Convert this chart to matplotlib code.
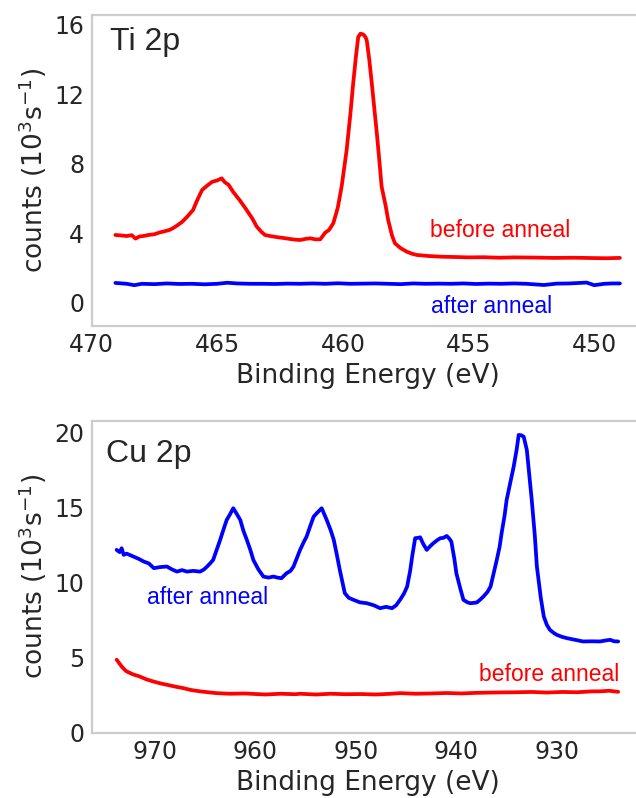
import matplotlib
matplotlib.use("Agg")
import matplotlib.pyplot as plt
import seaborn as sns

sns.set_theme(style="whitegrid", context="talk")
plt.rcParams["font.family"] = ["DejaVu Sans"]
plt.rcParams["mathtext.default"] = "regular"
plt.rcParams["axes.grid"] = False

ANNOT_FONT = ["Liberation Sans", "DejaVu Sans"]

# ---- Ti 2p region ----
ti_before_x = [469.05, 468.8, 468.6, 468.4, 468.25, 468.1, 467.9, 467.7, 467.5, 467.3,
               467.1, 466.9, 466.76, 466.6, 466.4, 466.2, 465.96, 465.8, 465.6, 465.4,
               465.2, 465.0, 464.82, 464.7, 464.55, 464.37, 464.1, 463.83, 463.6, 463.43,
               463.25, 463.1, 462.9, 462.6, 462.38, 462.1, 461.9, 461.7, 461.5, 461.3,
               461.1, 460.9, 460.7, 460.55, 460.38, 460.2, 460.05, 459.85, 459.7, 459.59,
               459.48, 459.39, 459.3, 459.19, 459.1, 459.05, 458.95, 458.85, 458.75, 458.65,
               458.55, 458.46, 458.3, 458.2, 458.05, 457.93, 457.7, 457.46, 457.25, 457.06,
               456.6, 456.1, 455.5, 455.0, 454.4, 453.8, 453.2, 452.4, 451.6, 450.8,
               450.0, 449.5, 448.98]
ti_before_y = [3.91, 3.88, 3.85, 3.90, 3.70, 3.82, 3.86, 3.92, 3.95, 4.05,
               4.12, 4.20, 4.30, 4.45, 4.66, 4.95, 5.35, 5.90, 6.50, 6.75,
               6.97, 7.05, 7.17, 6.95, 6.80, 6.40, 5.90, 5.35, 4.85, 4.40,
               4.10, 3.91, 3.85, 3.78, 3.74, 3.68, 3.64, 3.62, 3.68, 3.72,
               3.66, 3.66, 4.05, 4.20, 4.59, 5.50, 6.70, 8.80, 10.90, 12.64,
               14.20, 15.30, 15.50, 15.45, 15.30, 15.10, 14.00, 12.64, 11.20, 9.77,
               8.20, 6.70, 5.60, 4.78, 3.90, 3.43, 3.15, 2.95, 2.83, 2.76,
               2.70, 2.66, 2.64, 2.62, 2.63, 2.60, 2.62, 2.61, 2.59, 2.60,
               2.58, 2.57, 2.59]

ti_after_x = [469.05, 468.6, 468.3, 468.0, 467.5, 467.0, 466.5, 466.0, 465.5, 465.0,
              464.6, 464.2, 463.7, 463.2, 462.7, 462.2, 461.7, 461.2, 460.7, 460.2,
              459.7, 459.2, 458.7, 458.2, 457.7, 457.2, 456.7, 456.2, 455.7, 455.2,
              454.7, 454.2, 453.7, 453.2, 452.7, 452.0, 451.5, 451.0, 450.3, 450.0,
              449.6, 449.3, 448.98]
ti_after_y = [1.15, 1.10, 1.02, 1.10, 1.08, 1.12, 1.09, 1.10, 1.07, 1.10,
              1.16, 1.12, 1.10, 1.10, 1.09, 1.11, 1.10, 1.12, 1.10, 1.13,
              1.10, 1.11, 1.12, 1.10, 1.08, 1.12, 1.10, 1.11, 1.10, 1.12,
              1.09, 1.11, 1.10, 1.12, 1.10, 1.03, 1.11, 1.12, 1.17, 1.02,
              1.10, 1.12, 1.12]

# ---- Cu 2p region ----
cu_after_x = [973.8, 973.5, 973.3, 973.1, 972.8, 972.1, 971.6, 971.1, 970.6, 970.1,
              969.5, 968.8, 968.3, 967.8, 967.3, 966.8, 966.2, 965.5, 965.1, 964.8,
              964.5, 964.2, 963.85, 963.5, 963.2, 962.85, 962.5, 962.2, 961.85, 961.5,
              961.2, 960.85, 960.5, 960.2, 959.7, 959.2, 958.7, 958.2, 957.8, 957.4,
              956.9, 956.5, 956.2, 955.9, 955.55, 955.2, 954.9, 954.56, 954.2, 953.9,
              953.4, 952.9, 952.5, 952.2, 951.9, 951.6, 951.1, 950.7, 950.25, 949.6,
              948.9, 948.2, 947.6, 947.0, 946.4, 946.0, 945.6, 945.2, 944.9, 944.6,
              944.4, 944.1, 943.85, 943.6, 943.3, 942.95, 942.6, 942.3, 941.9, 941.6,
              941.3, 940.96, 940.7, 940.5, 940.2, 940.0, 939.6, 939.3, 938.9, 938.6,
              937.97, 937.6, 937.3, 936.9, 936.6, 936.3, 935.98, 935.7, 935.5, 935.2,
              935.0, 934.6, 934.3, 934.0, 933.8, 933.55, 933.3, 932.99, 932.75, 932.5,
              932.2, 931.99, 931.6, 931.3, 931.0, 930.7, 930.3, 930.0, 929.5, 929.0,
              928.2, 927.4, 926.5, 925.7, 925.2, 924.7, 924.3, 923.9]
cu_after_y = [12.20, 12.05, 12.31, 11.87, 11.95, 11.75, 11.60, 11.42, 11.30, 10.98,
              11.05, 11.09, 10.90, 10.75, 10.85, 10.75, 10.80, 10.75, 10.90, 11.09,
              11.30, 11.53, 12.20, 12.87, 13.50, 14.20, 14.60, 14.98, 14.60, 14.20,
              13.50, 12.87, 12.20, 11.53, 10.90, 10.42, 10.35, 10.42, 10.35, 10.31,
              10.64, 10.80, 11.09, 11.60, 12.20, 12.70, 13.09, 13.75, 14.42, 14.64,
              14.98, 14.20, 13.50, 12.87, 11.90, 10.87, 9.31, 9.00, 8.87, 8.70,
              8.64, 8.50, 8.31, 8.40, 8.31, 8.50, 8.87, 9.30, 9.75, 10.80,
              11.75, 12.98, 13.00, 13.04, 12.60, 12.20, 12.45, 12.64, 12.85, 12.98,
              13.00, 13.13, 12.95, 12.75, 11.60, 10.64, 9.60, 8.87, 8.70, 8.64,
              8.69, 8.90, 9.09, 9.40, 9.75, 10.60, 11.53, 12.40, 13.31, 14.50,
              15.53, 16.80, 17.75, 18.90, 19.87, 19.85, 19.75, 18.87, 17.20, 15.53,
              13.20, 11.09, 9.00, 7.75, 7.20, 6.87, 6.65, 6.53, 6.40, 6.31,
              6.20, 6.09, 6.10, 6.09, 6.15, 6.20, 6.10, 6.09]

cu_before_x = [973.8, 973.5, 973.3, 973.0, 972.8, 972.2, 971.5, 970.8, 970.15, 969.5,
               968.8, 968.0, 967.2, 966.4, 965.5, 964.7, 963.85, 962.5, 961.0, 960.5,
               959.0, 957.5, 956.0, 955.55, 954.0, 952.5, 951.0, 949.5, 948.0, 946.5,
               945.6, 944.0, 942.5, 941.0, 939.5, 938.0, 936.5, 935.6, 934.0, 932.5,
               931.0, 929.5, 928.0, 926.5, 925.7, 924.8, 923.9]
cu_before_y = [4.87, 4.60, 4.42, 4.20, 4.09, 3.90, 3.75, 3.55, 3.42, 3.30,
               3.20, 3.08, 2.98, 2.85, 2.76, 2.70, 2.64, 2.60, 2.62, 2.60,
               2.55, 2.60, 2.57, 2.60, 2.55, 2.60, 2.57, 2.58, 2.55, 2.60,
               2.64, 2.60, 2.62, 2.65, 2.62, 2.66, 2.68, 2.69, 2.70, 2.72,
               2.68, 2.72, 2.70, 2.76, 2.76, 2.80, 2.73]

ti_yticks = [0, 4, 8, 12, 16]
ti_xticks = [470, 465, 460, 455, 450]
cu_yticks = [0, 5, 10, 15, 20]
cu_xticks = [970, 960, 950, 940, 930]

xlabel = "Binding Energy (eV)"
ylabel = "counts ($10^3 s^{-1}$)"

fig = plt.figure(figsize=(6.36, 7.98), dpi=100)
ax1 = fig.add_axes([0.1439, 0.5919, 0.8695, 0.3897])
ax2 = fig.add_axes([0.1439, 0.0818, 0.8695, 0.3910])

lw = 2.7
for ax in (ax1, ax2):
    for s in ax.spines.values():
        s.set_color("#cccccc")
        s.set_linewidth(1.6)

# Ti 2p panel
ax1.plot(ti_before_x, ti_before_y, color="red", lw=lw)
ax1.plot(ti_after_x, ti_after_y, color="blue", lw=lw)
ax1.set_xlim(470, 448)
ax1.set_ylim(-1.31, 16.59)
ax1.set_xticks(ti_xticks)
ax1.set_yticks(ti_yticks)
ax1.set_xlabel(xlabel, fontsize=19)
ax1.set_ylabel(ylabel, fontsize=19)
ax1.text(469.26, 14.56, "Ti 2p", fontsize=23, color="#262626", ha="left",
         va="baseline", family=ANNOT_FONT)
ax1.text(456.55, 3.78, "before anneal", fontsize=16.5, color="red", ha="left",
         va="baseline", family=ANNOT_FONT)
ax1.text(456.5, -0.59, "after anneal", fontsize=16.5, color="blue", ha="left",
         va="baseline", family=ANNOT_FONT)

# Cu 2p panel
ax2.plot(cu_after_x, cu_after_y, color="blue", lw=lw)
ax2.plot(cu_before_x, cu_before_y, color="red", lw=lw)
ax2.set_xlim(976.3, 921.28)
ax2.set_ylim(0, 20.82)
ax2.set_xticks(cu_xticks)
ax2.set_yticks(cu_yticks)
ax2.set_xlabel(xlabel, fontsize=19)
ax2.set_ylabel(ylabel, fontsize=19)
ax2.text(974.9, 18.09, "Cu 2p", fontsize=23, color="#262626", ha="left",
         va="baseline", family=ANNOT_FONT)
ax2.text(970.8, 8.6, "after anneal", fontsize=16.5, color="blue", ha="left",
         va="baseline", family=ANNOT_FONT)
ax2.text(937.75, 3.47, "before anneal", fontsize=16.5, color="red", ha="left",
         va="baseline", family=ANNOT_FONT)

for ax in (ax1, ax2):
    ax.tick_params(labelsize=17, length=0, pad=5.25)

fig.savefig("out.png", dpi=100)
